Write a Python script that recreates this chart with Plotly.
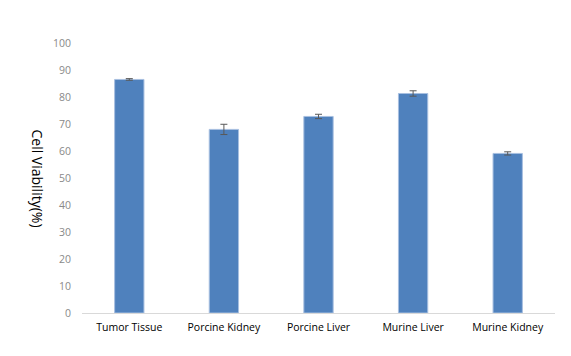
import plotly.graph_objects as go

categories = ["Tumor Tissue", "Porcine Kidney", "Porcine Liver", "Murine Liver", "Murine Kidney"]
viability = [86.5, 68.0, 72.8, 81.3, 59.1]
errors = [0.3, 1.9, 0.8, 1.0, 0.6]
y_ticks = [0, 10, 20, 30, 40, 50, 60, 70, 80, 90, 100]

fig = go.Figure()
fig.add_trace(go.Bar(
    x=categories,
    y=viability,
    width=0.31,
    marker=dict(color="#4f81bd", line=dict(color="#a7bfe0", width=1)),
    error_y=dict(type="data", array=errors, visible=True, color="#595959", thickness=1, width=3.5),
))

fig.update_layout(
    width=571, height=356,
    margin=dict(l=74, r=24, t=35, b=51),
    paper_bgcolor="white", plot_bgcolor="white",
    showlegend=False,
    font=dict(family="Open Sans, sans-serif"),
)
fig.update_xaxes(
    showline=True, linecolor="#d9d9d9", linewidth=1,
    showgrid=False, ticks="",
    tickfont=dict(size=10.5, color="#000000"),
    ticklabelstandoff=4,
)
fig.update_yaxes(
    range=[0, 100], tickvals=y_ticks,
    showgrid=False, zeroline=False, showline=False, ticks="",
    tickfont=dict(size=10.5, color="#898989"),
    ticklabelstandoff=10,
)
fig.add_annotation(
    text="Cell Viability(%)", textangle=90,
    xref="paper", yref="paper",
    x=-0.094, y=0.5, xanchor="center", yanchor="middle",
    showarrow=False,
    font=dict(size=14, color="#000000", family="Open Sans, sans-serif"),
)

fig.write_html("out.html")
